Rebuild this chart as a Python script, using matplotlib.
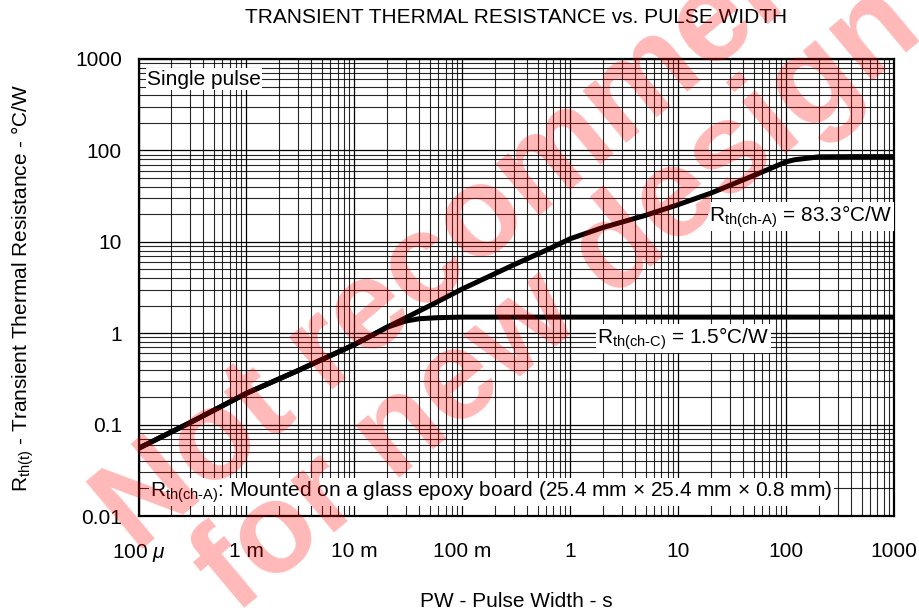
import matplotlib
matplotlib.use("Agg")
import matplotlib.pyplot as plt
from matplotlib.ticker import FixedLocator, LogLocator, NullFormatter

plt.rcParams['font.family'] = ['Liberation Sans', 'DejaVu Sans']
plt.rcParams['mathtext.fontset'] = 'custom'
plt.rcParams['mathtext.rm'] = 'Liberation Sans'
plt.rcParams['mathtext.it'] = 'Liberation Sans:italic'

# pulse width [s] vs transient thermal resistance [C/W]
t_ch_a = [1e-4, 3e-4, 1e-3, 3e-3, 1e-2, 2e-2, 5e-2, 0.1, 0.3, 0.6, 1, 2, 5, 10,
          20, 50, 100, 120, 200, 400, 1000]
r_ch_a = [0.055, 0.105, 0.22, 0.39, 0.75, 1.16, 2.0, 3.05, 5.6, 8.1, 10.8, 14.3,
          19.5, 25.5, 34, 53, 75, 79, 85, 85.5, 85.5]

t_ch_c = [1e-4, 3e-4, 1e-3, 3e-3, 1e-2, 2e-2, 0.03, 0.04, 0.06, 0.1, 1000]
r_ch_c = [0.055, 0.105, 0.22, 0.39, 0.75, 1.16, 1.36, 1.44, 1.48, 1.5, 1.5]

x_ticks = [1e-4, 1e-3, 1e-2, 1e-1, 1, 10, 100, 1000]
x_labels = ["100 $\\mathit{\\mu}$", "1 m", "10 m", "100 m", "1", "10", "100", "1000"]
y_ticks = [0.01, 0.1, 1, 10, 100, 1000]
y_labels = ["0.01", "0.1", "1", "10", "100", "1000"]

FS = 15
W, H = 919, 611
fig = plt.figure(figsize=(W / 100, H / 100), dpi=100)
ax = fig.add_axes([138.5 / W, 1 - 516 / H, (894 - 138.5) / W, (516 - 59) / H])

ax.set_xscale("log")
ax.set_yscale("log")
ax.set_xlim(1e-4, 1000)
ax.set_ylim(0.01, 1000)

ax.xaxis.set_major_locator(FixedLocator(x_ticks))
ax.set_xticklabels(x_labels)
ax.yaxis.set_major_locator(FixedLocator(y_ticks))
ax.set_yticklabels(y_labels)
ax.xaxis.set_minor_locator(LogLocator(base=10, subs=range(2, 10), numticks=20))
ax.yaxis.set_minor_locator(LogLocator(base=10, subs=range(2, 10), numticks=20))
ax.xaxis.set_minor_formatter(NullFormatter())
ax.yaxis.set_minor_formatter(NullFormatter())
ax.tick_params(which="both", length=0, labelsize=FS)
ax.tick_params(axis="x", pad=19)
ax.tick_params(axis="y", pad=12)

ax.grid(which="major", color="black", linewidth=0.9)
ax.grid(which="minor", color="black", linewidth=0.8, alpha=0.85)
for s in ax.spines.values():
    s.set_linewidth(1.6)

ax.plot(t_ch_a, r_ch_a, color="black", linewidth=3.6, zorder=3)
ax.plot(t_ch_c, r_ch_c, color="black", linewidth=3.6, zorder=3)

box = dict(facecolor="white", edgecolor="none", pad=1)
ax.text(1.2e-4, 600, "Single pulse", fontsize=FS, va="center", bbox=box, zorder=4)
ax.text(960, 19, "$\\mathregular{R_{th(ch\\text{-}A)}}$ = 83.3°C/W", fontsize=FS,
        ha="right", va="center", bbox=box, zorder=4)
ax.text(70, 0.88, "$\\mathregular{R_{th(ch\\text{-}C)}}$ = 1.5°C/W", fontsize=FS,
        ha="right", va="center", bbox=box, zorder=4)
ax.text(1.28e-4, 0.0183,
        "$\\mathregular{R_{th(ch\\text{-}A)}}$: Mounted on a glass epoxy board (25.4 mm × 25.4 mm × 0.8 mm)",
        fontsize=FS, va="center", bbox=box, zorder=4)

ax.set_xlabel("PW - Pulse Width - s", fontsize=FS, labelpad=20)
ax.set_ylabel("$\\mathregular{R_{th(t)}}$ - Transient Thermal Resistance - °C/W", fontsize=FS, labelpad=28)
ax.set_title("TRANSIENT THERMAL RESISTANCE vs. PULSE WIDTH", fontsize=FS, pad=26)

# watermark
wm = dict(color="red", alpha=0.28, fontsize=92, fontweight="bold", rotation=40,
          ha="center", va="center", family="Liberation Sans", zorder=10)
fig.text(545 / W, 1 - 168 / H, "Not recommended", **wm)
fig.text(560 / W, 1 - 300 / H, "for new design", **wm)

fig.savefig("out.png", dpi=100)
